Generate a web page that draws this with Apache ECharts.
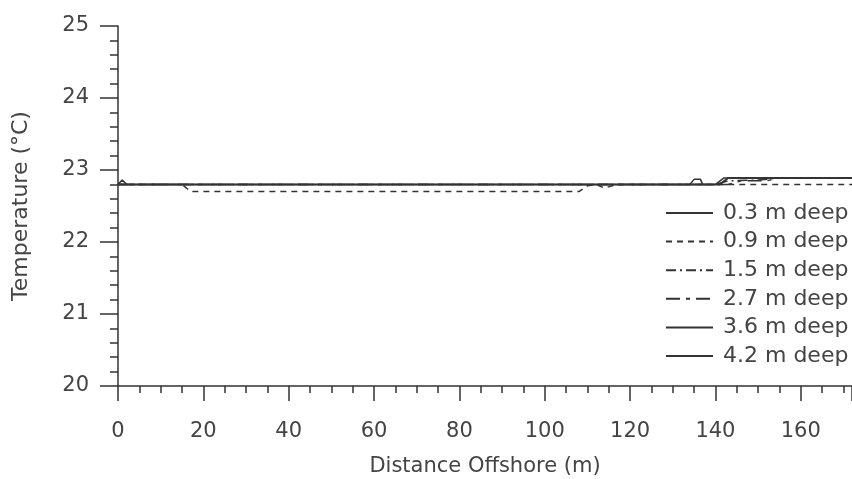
<!DOCTYPE html>
<html>
<head>
<meta charset="utf-8">
<script src="https://cdn.jsdelivr.net/npm/echarts@6/dist/echarts.min.js"></script>
<style>
  html, body { margin: 0; padding: 0; background: #fff; }
  #chart { width: 852px; height: 479px; }
</style>
</head>
<body>
<div id="chart"></div>
<script>
// Temperature profiles along the transect, [distance offshore (m), temperature (°C)]
const seriesNames = ['0.3 m deep', '0.9 m deep', '1.5 m deep', '2.7 m deep', '3.6 m deep', '4.2 m deep'];

const deep03 = [[0, 22.8], [1, 22.86], [2, 22.8], [140, 22.8], [142, 22.89], [172, 22.89]];
const deep09 = [[0, 22.8], [15, 22.8], [17, 22.7], [108, 22.7], [110, 22.78], [112, 22.8],
                [114, 22.75], [117, 22.8], [172, 22.8]];
const deep15 = [[0, 22.8], [140, 22.8], [143, 22.85], [150, 22.86], [155, 22.89], [172, 22.89]];
const deep27 = [[0, 22.8], [143, 22.8], [146, 22.85], [152, 22.85], [155, 22.89], [172, 22.89]];
const deep36 = [[0, 22.8], [141, 22.8], [143, 22.89], [172, 22.89]];
const deep42 = [[0, 22.8], [134, 22.8], [135, 22.87], [136.5, 22.87], [137, 22.8], [141, 22.8],
                [143, 22.89], [172, 22.89]];

const seriesData = [deep03, deep09, deep15, deep27, deep36, deep42];
const dashTypes = ['solid', [6, 5], [10, 4, 2, 4], [14, 6, 4, 6], 'solid', 'solid'];

const xTicks = [0, 20, 40, 60, 80, 100, 120, 140, 160];
const yTicks = [20, 21, 22, 23, 24, 25];

const ink = '#333';
const textInk = '#444';
const font = 'DejaVu Sans';

const chart = echarts.init(document.getElementById('chart'), null, { renderer: 'canvas' });

chart.setOption({
  animation: false,
  backgroundColor: '#fff',
  grid: { left: 118, right: 0, top: 26, bottom: 93, containLabel: false, outerBoundsMode: 'none' },
  legend: {
    orient: 'vertical',
    left: 665,
    top: 202,
    padding: 0,
    itemWidth: 47,
    itemHeight: 14,
    itemGap: 6.6,
    data: seriesNames,
    itemStyle: { color: 'transparent', borderColor: 'transparent', borderWidth: 0, opacity: 0 },
    textStyle: { fontFamily: font, fontSize: 22, color: textInk, padding: [0, 0, 0, 5] }
  },
  xAxis: {
    type: 'value',
    min: 0,
    max: 172,
    interval: 20,
    name: 'Distance Offshore (m)',
    nameLocation: 'middle',
    nameGap: 70,
    nameTextStyle: { fontFamily: font, fontSize: 21, color: textInk },
    axisLine: { show: true, onZero: false, lineStyle: { color: ink, width: 1.5 } },
    axisTick: { show: true, inside: false, length: 15, lineStyle: { color: ink, width: 1.5 } },
    minorTick: { show: true, splitNumber: 4, length: 7, lineStyle: { color: ink, width: 1.5 } },
    splitLine: { show: false },
    axisLabel: {
      fontFamily: font, fontSize: 21, color: textInk, margin: 35,
      formatter: v => xTicks.indexOf(v) >= 0 ? String(v) : ''
    }
  },
  yAxis: {
    type: 'value',
    min: 20,
    max: 25,
    interval: 1,
    name: 'Temperature (°C)',
    nameLocation: 'middle',
    nameGap: 86,
    nameTextStyle: { fontFamily: font, fontSize: 22, color: textInk },
    axisLine: { show: true, onZero: false, lineStyle: { color: ink, width: 1.5 } },
    axisTick: { show: true, inside: false, length: 18, lineStyle: { color: ink, width: 1.5 } },
    minorTick: { show: true, splitNumber: 5, length: 8, lineStyle: { color: ink, width: 1.5 } },
    splitLine: { show: false },
    axisLabel: {
      fontFamily: font, fontSize: 21, color: textInk, margin: 29,
      formatter: v => yTicks.indexOf(v) >= 0 ? String(v) : ''
    }
  },
  series: seriesNames.map((name, i) => ({
    name: name,
    type: 'line',
    data: seriesData[i],
    symbol: 'none',
    showSymbol: false,
    smooth: false,
    color: ink,
    lineStyle: { color: ink, width: 1.5, type: dashTypes[i] },
    z: 2 + i
  }))
});
</script>
</body>
</html>
